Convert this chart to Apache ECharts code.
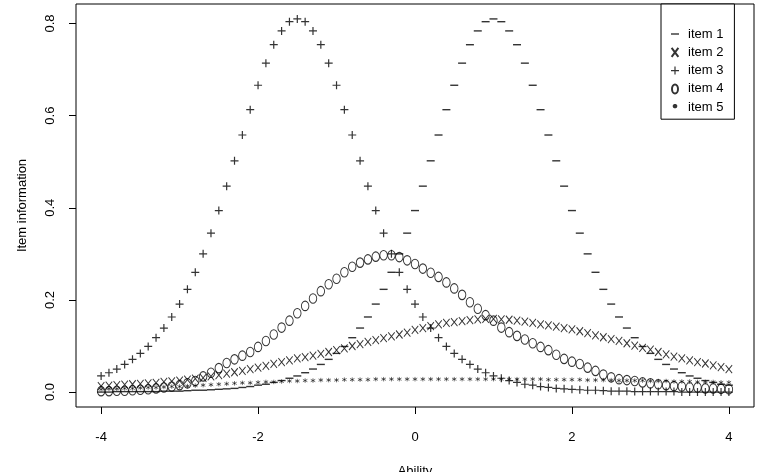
<!DOCTYPE html>
<html>
<head>
<meta charset="utf-8">
<script src="https://cdn.jsdelivr.net/npm/echarts@6/dist/echarts.min.js"></script>
<style>
  html, body { margin: 0; padding: 0; background: #fff; }
  #main { width: 764px; height: 472px; }
</style>
</head>
<body>
<div id="main"></div>
<script>
// ability grid (x axis)
var theta = [
  -4.0, -3.9, -3.8, -3.7, -3.6, -3.5, -3.4, -3.3, -3.2, -3.1,
  -3.0, -2.9, -2.8, -2.7, -2.6, -2.5, -2.4, -2.3, -2.2, -2.1,
  -2.0, -1.9, -1.8, -1.7, -1.6, -1.5, -1.4, -1.3, -1.2, -1.1,
  -1.0, -0.9, -0.8, -0.7, -0.6, -0.5, -0.4, -0.3, -0.2, -0.1,
  0.0, 0.1, 0.2, 0.3, 0.4, 0.5, 0.6, 0.7, 0.8, 0.9,
  1.0, 1.1, 1.2, 1.3, 1.4, 1.5, 1.6, 1.7, 1.8, 1.9,
  2.0, 2.1, 2.2, 2.3, 2.4, 2.5, 2.6, 2.7, 2.8, 2.9,
  3.0, 3.1, 3.2, 3.3, 3.4, 3.5, 3.6, 3.7, 3.8, 3.9,
  4.0
];

// item information
var item1 = [
  0.000, 0.000, 0.001, 0.001, 0.001, 0.001, 0.001, 0.001, 0.002, 0.002,
  0.002, 0.003, 0.004, 0.004, 0.005, 0.006, 0.007, 0.008, 0.010, 0.012,
  0.015, 0.017, 0.021, 0.025, 0.030, 0.035, 0.042, 0.050, 0.060, 0.071,
  0.084, 0.099, 0.118, 0.139, 0.163, 0.191, 0.223, 0.260, 0.300, 0.345,
  0.394, 0.447, 0.502, 0.558, 0.613, 0.666, 0.714, 0.754, 0.784, 0.804,
  0.810, 0.804, 0.784, 0.754, 0.714, 0.666, 0.613, 0.558, 0.502, 0.447,
  0.394, 0.345, 0.300, 0.260, 0.223, 0.191, 0.163, 0.139, 0.118, 0.099,
  0.084, 0.071, 0.060, 0.050, 0.042, 0.035, 0.030, 0.025, 0.021, 0.017,
  0.015
];
var item2 = [
  0.013, 0.014, 0.015, 0.016, 0.017, 0.018, 0.019, 0.020, 0.022, 0.023,
  0.025, 0.027, 0.029, 0.031, 0.034, 0.037, 0.040, 0.043, 0.046, 0.050,
  0.053, 0.057, 0.061, 0.065, 0.069, 0.073, 0.076, 0.079, 0.083, 0.087,
  0.091, 0.095, 0.100, 0.104, 0.109, 0.113, 0.117, 0.121, 0.125, 0.129,
  0.135, 0.139, 0.143, 0.147, 0.150, 0.152, 0.154, 0.156, 0.158, 0.159,
  0.159, 0.158, 0.157, 0.155, 0.153, 0.150, 0.147, 0.145, 0.142, 0.139,
  0.136, 0.132, 0.128, 0.123, 0.119, 0.115, 0.111, 0.106, 0.101, 0.096,
  0.092, 0.087, 0.082, 0.077, 0.073, 0.069, 0.065, 0.062, 0.058, 0.054,
  0.050
];
var item3 = [
  0.035, 0.042, 0.050, 0.060, 0.071, 0.084, 0.099, 0.118, 0.139, 0.163,
  0.191, 0.223, 0.260, 0.300, 0.345, 0.394, 0.447, 0.502, 0.558, 0.613,
  0.666, 0.714, 0.754, 0.784, 0.804, 0.810, 0.804, 0.784, 0.754, 0.714,
  0.666, 0.613, 0.558, 0.502, 0.447, 0.394, 0.345, 0.300, 0.260, 0.223,
  0.191, 0.163, 0.139, 0.118, 0.099, 0.084, 0.071, 0.060, 0.050, 0.042,
  0.035, 0.030, 0.025, 0.021, 0.017, 0.015, 0.012, 0.010, 0.008, 0.007,
  0.006, 0.005, 0.004, 0.004, 0.003, 0.002, 0.002, 0.002, 0.001, 0.001,
  0.001, 0.001, 0.001, 0.001, 0.000, 0.000, 0.000, 0.000, 0.000, 0.000,
  0.000
];
var item4 = [
  0.002, 0.002, 0.003, 0.003, 0.004, 0.005, 0.006, 0.008, 0.010, 0.012,
  0.015, 0.019, 0.024, 0.034, 0.042, 0.052, 0.063, 0.071, 0.079, 0.087,
  0.098, 0.111, 0.125, 0.140, 0.155, 0.171, 0.187, 0.203, 0.219, 0.234,
  0.246, 0.260, 0.272, 0.281, 0.288, 0.294, 0.297, 0.297, 0.293, 0.286,
  0.278, 0.268, 0.259, 0.250, 0.238, 0.225, 0.211, 0.195, 0.181, 0.167,
  0.155, 0.140, 0.130, 0.122, 0.114, 0.106, 0.098, 0.091, 0.081, 0.072,
  0.066, 0.061, 0.053, 0.046, 0.038, 0.032, 0.028, 0.026, 0.024, 0.021,
  0.019, 0.017, 0.015, 0.013, 0.012, 0.010, 0.010, 0.008, 0.008, 0.007,
  0.006
];
var item5 = [
  0.006, 0.007, 0.007, 0.008, 0.008, 0.009, 0.010, 0.010, 0.011, 0.012,
  0.012, 0.013, 0.014, 0.015, 0.016, 0.017, 0.018, 0.019, 0.020, 0.020,
  0.021, 0.022, 0.022, 0.023, 0.024, 0.024, 0.025, 0.025, 0.026, 0.026,
  0.026, 0.027, 0.027, 0.027, 0.027, 0.028, 0.028, 0.028, 0.028, 0.028,
  0.028, 0.028, 0.028, 0.028, 0.028, 0.028, 0.028, 0.028, 0.028, 0.028,
  0.028, 0.028, 0.028, 0.028, 0.028, 0.028, 0.028, 0.027, 0.027, 0.027,
  0.027, 0.027, 0.026, 0.026, 0.026, 0.026, 0.025, 0.025, 0.025, 0.025,
  0.024, 0.024, 0.024, 0.023, 0.023, 0.023, 0.022, 0.022, 0.022, 0.021,
  0.021
];

var names = ["item 1", "item 2", "item 3", "item 4", "item 5"];
var xTicks = [-4, -2, 0, 2, 4];
var yTicks = [0, 0.2, 0.4, 0.6, 0.8];

function pairs(vals) {
  return theta.map(function (t, i) { return [t, vals[i]]; });
}

var font = "'Liberation Sans', Arial, sans-serif";
var clear = "rgba(0,0,0,0)";

// glyph-like markers: "-", "x", "+", "o", "*"
var symDash = "path://M0,0H8V1.4H0Z";
var symCross = "path://M0,0L6,8M6,0L0,8";
var symPlus = "path://M3.4,0H4.6V3.4H8V4.6H4.6V8H3.4V4.6H0V3.4H3.4Z";
var symRing = "path://M3,0A3,4.5,0,1,1,3,9A3,4.5,0,1,1,3,0Z";
var symStar = "path://M2.5,0L2.5,5M0,1.2L5,3.8M0,3.8L5,1.2";
// same star, padded so the legend does not blow it up
var legendStar = "path://M0,0M8,9M4,1.5L4,5.5M2,2.5L6,4.5M2,4.5L6,2.5";

var option = {
  animation: false,
  backgroundColor: "#fff",
  textStyle: { fontFamily: font },
  grid: {
    left: 76,
    right: 10,
    top: 4,
    bottom: 65,
    show: true,
    borderColor: "#000",
    borderWidth: 1,
    backgroundColor: clear,
    outerBoundsMode: "none"
  },
  legend: {
    orient: "vertical",
    left: 661,
    top: 4,
    padding: [23, 11, 5, 9],
    itemGap: 4.3,
    itemWidth: 8,
    itemHeight: 9,
    borderColor: "#000",
    borderWidth: 1,
    backgroundColor: "#fff",
    selectedMode: false,
    textStyle: {
      fontFamily: font,
      fontSize: 13,
      color: "#000",
      lineHeight: 14,
      padding: [0, 0, 0, 4]
    },
    data: [
      { name: names[0] },
      { name: names[1] },
      { name: names[2] },
      { name: names[3] },
      { name: names[4], icon: legendStar }
    ]
  },
  xAxis: {
    type: "value",
    min: -4.32,
    max: 4.32,
    name: "Ability",
    nameLocation: "middle",
    nameGap: 58,
    nameTextStyle: { fontFamily: font, fontSize: 13, color: "#000" },
    axisLine: { show: false, onZero: false },
    splitLine: { show: false },
    axisTick: {
      show: true,
      length: 7,
      customValues: xTicks,
      lineStyle: { color: "#000", width: 1 }
    },
    axisLabel: {
      customValues: xTicks,
      margin: 24,
      fontFamily: font,
      fontSize: 13,
      color: "#000",
      formatter: function (v) { return String(v); }
    }
  },
  yAxis: {
    type: "value",
    min: -0.0324,
    max: 0.8424,
    name: "Item information",
    nameLocation: "middle",
    nameGap: 47,
    nameTextStyle: { fontFamily: font, fontSize: 13, color: "#000" },
    axisLine: { show: false, onZero: false },
    splitLine: { show: false },
    axisTick: {
      show: true,
      length: 7,
      customValues: yTicks,
      lineStyle: { color: "#000", width: 1 }
    },
    axisLabel: {
      customValues: yTicks,
      rotate: 90,
      margin: 19,
      fontFamily: font,
      fontSize: 13,
      color: "#000",
      formatter: function (v) { return v.toFixed(1); }
    }
  },
  series: [
    {
      name: names[0], type: "scatter", data: pairs(item1),
      symbol: symDash, symbolSize: [8, 1.4],
      itemStyle: { color: "#000" }
    },
    {
      name: names[1], type: "scatter", data: pairs(item2),
      symbol: symCross, symbolSize: [6.5, 8],
      itemStyle: { color: clear, borderColor: "#000", borderWidth: 1 }
    },
    {
      name: names[2], type: "scatter", data: pairs(item3),
      symbol: symPlus, symbolSize: 8,
      itemStyle: { color: "#000" }
    },
    {
      name: names[3], type: "scatter", data: pairs(item4),
      symbol: symRing, symbolSize: [7.5, 9.5],
      itemStyle: { color: clear, borderColor: "#000", borderWidth: 1 }
    },
    {
      name: names[4], type: "scatter", data: pairs(item5),
      symbol: symStar, symbolSize: 4.5,
      itemStyle: { color: clear, borderColor: "#000", borderWidth: 0.7 }
    }
  ]
};

echarts.init(document.getElementById("main")).setOption(option);
</script>
</body>
</html>
